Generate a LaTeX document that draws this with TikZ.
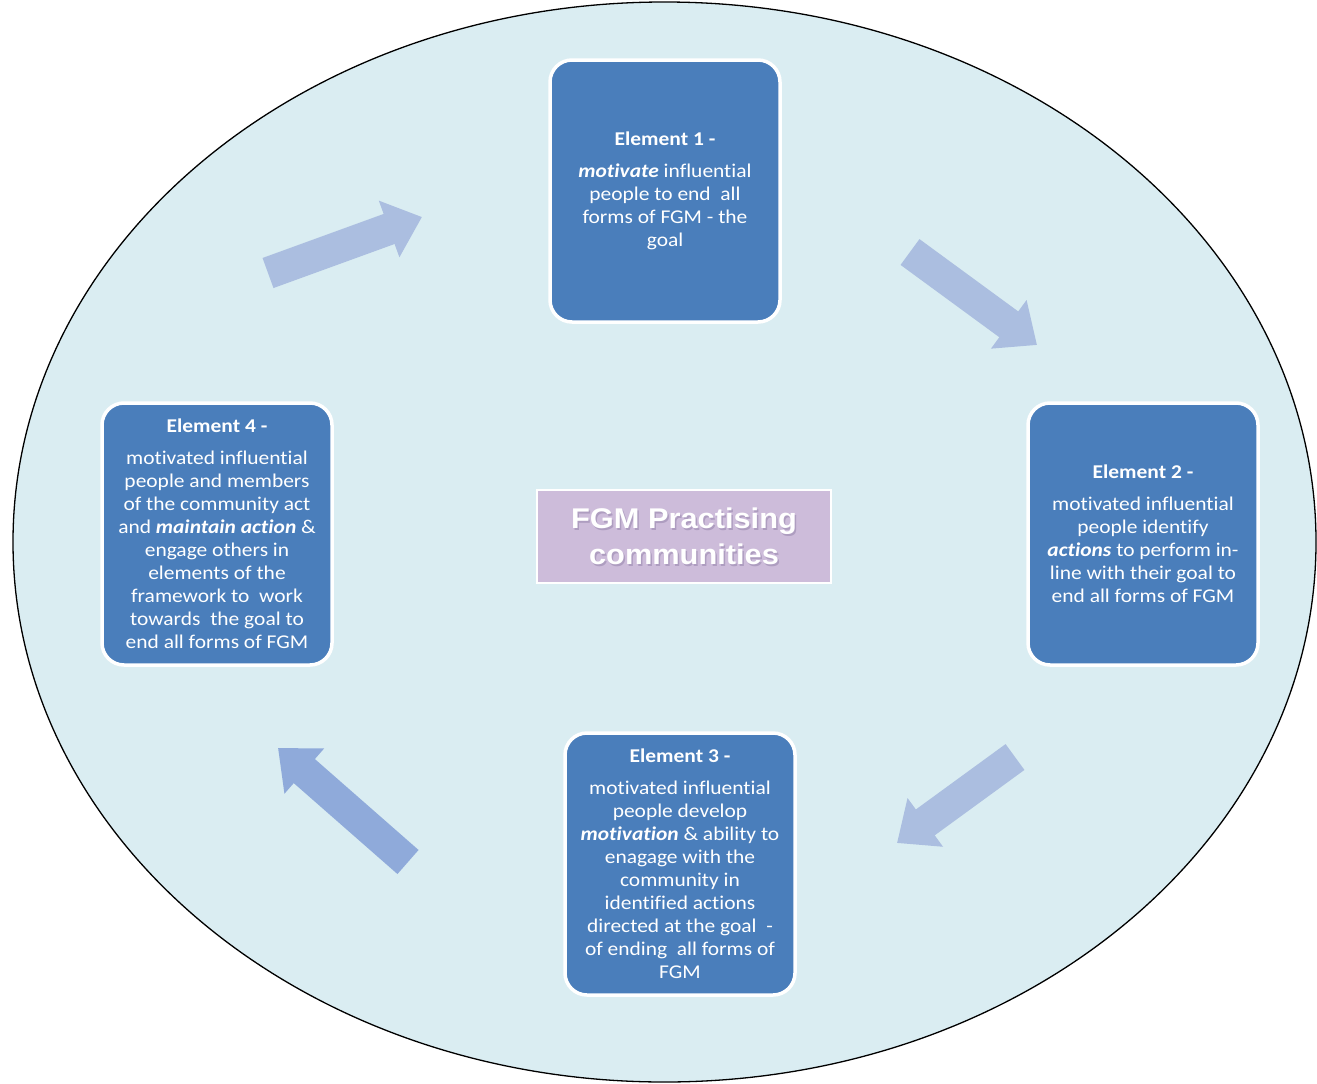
\documentclass[tikz,border=0pt]{standalone}
\usepackage{fontspec}
\setmainfont[FakeStretch=1.1, Ligatures=NoCommon]{Carlito}
\newfontfamily\hubfont[FakeStretch=1.08]{Liberation Sans}
\usetikzlibrary{arrows.meta}
\definecolor{bgfill}{HTML}{DAEDF2}
\definecolor{boxblue}{HTML}{4A7EBB}
\definecolor{lav}{HTML}{CDBCDA}
\definecolor{lavshadow}{HTML}{AE9DC0}
\definecolor{arrA}{HTML}{ABBEE0}
\definecolor{arrB}{HTML}{8FAADA}
\tikzset{
  elem/.style={rectangle, rounded corners=22pt, fill=boxblue, draw=white,
    line width=3.5pt, minimum width=230pt, minimum height=262pt, inner sep=0pt,
    text=white, align=center, font=\fontsize{19.5}{23}\selectfont},
  hub/.style={rectangle, fill=lav, draw=white, line width=1.5pt,
    minimum width=294pt, minimum height=93pt},
  hubtext/.style={text=white, align=center, font=\hubfont\bfseries\fontsize{28.5}{36}\selectfont},
  blockarrow/.style={line width=32pt, -{Triangle[width=58pt,length=35pt]}}
}
\newcommand{\kwd}[1]{\textbf{\textit{#1}}}
\begin{document}
\begin{tikzpicture}[x=1pt,y=-1pt]
\useasboundingbox (0,0) rectangle (1317,1084);
\fill[white] (0,0) rectangle (1317,1084);
\draw[fill=bgfill, line width=1.3pt] (664.5,542) ellipse [x radius=651.5pt, y radius=540pt];

% arrows
\coordinate (a1s) at (268,273); \coordinate (a1e) at (422,217);
\coordinate (a2s) at (910,252); \coordinate (a2e) at (1037,345);
\coordinate (a3s) at (1015,757); \coordinate (a3e) at (897,843);
\coordinate (a4s) at (408,862); \coordinate (a4e) at (278,748);
\draw[blockarrow, arrA] (a1s) -- (a1e);
\draw[blockarrow, arrA] (a2s) -- (a2e);
\draw[blockarrow, arrA] (a3s) -- (a3e);
\draw[blockarrow, arrB] (a4s) -- (a4e);

% element boxes
\node[elem] (e1) at (665,191) {{\bfseries Element 1 -}\\[9pt]
  \kwd{motivate} influential\\
  people to end\ \ all\\
  forms of FGM - the\\
  goal};
\node[elem] (e2) at (1143,534) {{\bfseries Element 2 -}\\[9pt]
  motivated influential\\
  people identify\\
  \kwd{actions} to perform in-\\
  line with their goal to\\
  end all forms of FGM};
\node[elem] (e3) at (680,864) {{\bfseries Element 3 -}\\[9pt]
  motivated influential\\
  people develop\\
  \kwd{motivation} \& ability to\\
  enagage with the\\
  community in\\
  identified actions\\
  directed at the goal\ \ -\\
  of ending\ \ all forms of\\
  FGM};
\node[elem] (e4) at (217,534) {{\bfseries Element 4 -}\\[9pt]
  motivated influential\\
  people and members\\
  of the community act\\
  and \kwd{maintain action} \&\\
  engage others in\\
  elements of the\\
  framework to\ \ work\\
  towards\ \ the goal to\\
  end all forms of FGM};

% centre
\node[hub] (hub) at (684,536.5) {};
\node[hubtext, text=lavshadow] (hubs) at (685.5,538) {FGM Practising\\communities};
\node[hubtext] (hubt) at (684,536.5) {FGM Practising\\communities};
\end{tikzpicture}
\end{document}
